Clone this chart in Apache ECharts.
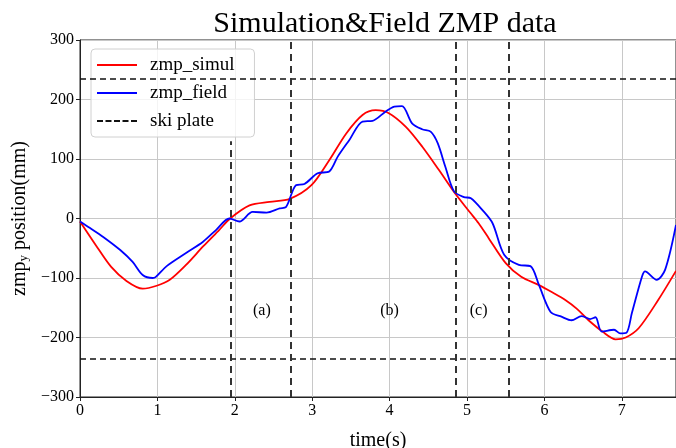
<!DOCTYPE html>
<html>
<head>
<meta charset="utf-8">
<script src="https://cdn.jsdelivr.net/npm/echarts@6/dist/echarts.min.js"></script>
<style>html,body{margin:0;padding:0;background:#fff}#c{width:676px;height:448px}</style>
</head>
<body>
<div id="c"></div>
<script>
const simulTime = [0, 0.2, 0.4, 0.6, 0.81, 0.99, 1.16, 1.37, 1.59, 1.8, 1.94, 2.19, 2.45, 2.71, 2.99, 3.22, 3.44, 3.65, 3.82, 3.99, 4.21, 4.42, 4.64, 4.83, 5.04, 5.15, 5.28, 5.5, 5.7, 5.93, 6.1, 6.27, 6.42, 6.57, 6.75, 6.92, 7.05, 7.22, 7.47, 7.7];
const simulValue = [-5, -44, -81, -105, -118, -113, -103, -78, -47, -19, 0, 22, 28, 33, 56, 98, 143, 174, 182, 177, 154, 121, 81, 45, 10, -8, -33, -75, -98, -112, -124, -137, -152, -171, -190, -203, -200, -184, -137, -88];
const fieldTime = [0, 0.13, 0.3, 0.52, 0.68, 0.81, 0.94, 0.98, 1.12, 1.37, 1.59, 1.76, 1.93, 2.06, 2.23, 2.41, 2.58, 2.66, 2.79, 2.9, 3.07, 3.22, 3.33, 3.48, 3.65, 3.78, 3.95, 4.06, 4.16, 4.29, 4.42, 4.53, 4.62, 4.72, 4.83, 4.96, 5.05, 5.2, 5.33, 5.48, 5.67, 5.82, 5.93, 6.08, 6.22, 6.35, 6.48, 6.59, 6.66, 6.74, 6.9, 6.98, 7.06, 7.13, 7.26, 7.3, 7.45, 7.56, 7.7];
const fieldValue = [-5, -16, -31, -53, -73, -95, -100, -98, -80, -58, -39, -19, 0, -5, 11, 10, 17, 19, 56, 58, 76, 79, 104, 132, 163, 164, 180, 188, 189, 160, 150, 146, 127, 87, 46, 36, 34, 14, -8, -61, -78, -80, -112, -157, -165, -171, -164, -169, -166, -190, -187, -193, -192, -159, -98, -89, -103, -86, -11];
const skiPlateY = [235, -235];
const phaseLines = [[1.95, -300, 130], [2.72, -300, 300], [4.86, -300, 300], [5.54, -300, 300]];
const phaseLabels = ['(a)', '(b)', '(c)'];
const phaseLabelX = [2.35, 4.0, 5.15];
const phaseLabelY = -155;
const xTicks = [0, 1, 2, 3, 4, 5, 6, 7];
const yTicks = [-300, -200, -100, 0, 100, 200, 300];

const serif = 'Liberation Serif';
const pair = (xs, ys) => xs.map((x, i) => [x, ys[i]]);

const markData = [];
skiPlateY.forEach(v => markData.push({ yAxis: v, lineStyle: { width: 1.5, color: '#111', type: [6, 4] } }));
phaseLines.forEach(p => markData.push([
  { coord: [p[0], p[1]], lineStyle: { width: 2, color: '#333', type: [7, 5] } },
  { coord: [p[0], p[2]] }
]));

const solidIcon = 'path://M0,0h40v2h-40z';
const dashIcon = 'path://M0,0h6v2h-6zM8.5,0h6v2h-6zM17,0h6v2h-6zM25.5,0h6v2h-6zM34,0h6v2h-6z';

const chart = echarts.init(document.getElementById('c'));
chart.setOption({
  animation: false,
  title: {
    text: 'Simulation&Field ZMP data',
    left: 380, top: 4, textAlign: 'center',
    textStyle: { fontFamily: serif, fontSize: 30, fontWeight: 'normal', color: '#000' }
  },
  legend: {
    orient: 'vertical', left: 91, top: 49,
    padding: [6, 20, 6, 6],
    itemWidth: 40, itemHeight: 2, itemGap: 8, symbolKeepAspect: false,
    backgroundColor: 'rgba(255,255,255,0.8)', borderColor: '#d0d0d0', borderWidth: 1, borderRadius: 4,
    textStyle: { fontFamily: serif, fontSize: 19, color: '#000', lineHeight: 20, padding: [0, 0, 0, 8] },
    data: [
      { name: 'zmp_simul', icon: solidIcon },
      { name: 'zmp_field', icon: solidIcon },
      { name: 'ski plate', icon: dashIcon }
    ]
  },
  grid: { left: 80, right: 0, top: 40, bottom: 51, outerBoundsMode: 'none', containLabel: false,
    show: true, borderColor: '#222', borderWidth: 1, backgroundColor: 'transparent' },
  xAxis: {
    type: 'value', min: 0, max: 7.7, interval: 1,
    name: 'time(s)', nameLocation: 'middle', nameGap: 34,
    nameTextStyle: { fontFamily: serif, fontSize: 20, color: '#000' },
    axisLine: { show: true, onZero: false, lineStyle: { color: '#222' } },
    axisTick: { show: true, length: 4, lineStyle: { color: '#222' } },
    axisLabel: { fontFamily: serif, fontSize: 16, color: '#000', margin: 6,
      formatter: v => xTicks.includes(v) ? String(v) : '' },
    splitLine: { show: true, lineStyle: { color: '#c8c8c8', width: 1 } }
  },
  yAxis: {
    type: 'value', min: -300, max: 300, interval: 100,
    name: '{a|zmp}{s|y}{a| position(mm)}', nameLocation: 'middle', nameGap: 50, nameRotate: 90,
    nameTextStyle: { fontFamily: serif, fontSize: 20, color: '#000',
      rich: {
        a: { fontFamily: serif, fontSize: 20, color: '#000' },
        s: { fontFamily: serif, fontSize: 13, color: '#000', padding: [8, 0, 0, 0] }
      } },
    axisLine: { show: true, onZero: false, lineStyle: { color: '#222' } },
    axisTick: { show: true, length: 4, lineStyle: { color: '#222' } },
    axisLabel: { fontFamily: serif, fontSize: 16, color: '#000', margin: 6,
      formatter: v => yTicks.includes(v) ? String(v).replace('-', '\u2212') : '' },
    splitLine: { show: true, lineStyle: { color: '#c8c8c8', width: 1 } }
  },
  series: [
    {
      name: 'zmp_simul', type: 'line', data: pair(simulTime, simulValue),
      smooth: 0.3, showSymbol: false, symbol: 'none',
      lineStyle: { color: '#ff0000', width: 1.8 }, itemStyle: { color: '#ff0000' }, z: 3
    },
    {
      name: 'zmp_field', type: 'line', data: pair(fieldTime, fieldValue),
      smooth: 0.3, showSymbol: false, symbol: 'none',
      lineStyle: { color: '#0000ff', width: 1.8 }, itemStyle: { color: '#0000ff' }, z: 4
    },
    {
      name: 'ski plate', type: 'line', data: [], symbol: 'none',
      lineStyle: { color: '#111', width: 1.5, type: [6, 4] }, itemStyle: { color: '#111' }, z: 2,
      markLine: { silent: true, symbol: ['none', 'none'], label: { show: false }, data: markData },
      markPoint: {
        silent: true, symbol: 'circle', symbolSize: 0,
        label: { show: true, position: 'inside', fontFamily: serif, fontSize: 16, color: '#000', formatter: p => p.name },
        data: phaseLabels.map((t, i) => ({ name: t, coord: [phaseLabelX[i], phaseLabelY] }))
      }
    }
  ]
});
</script>
</body>
</html>
